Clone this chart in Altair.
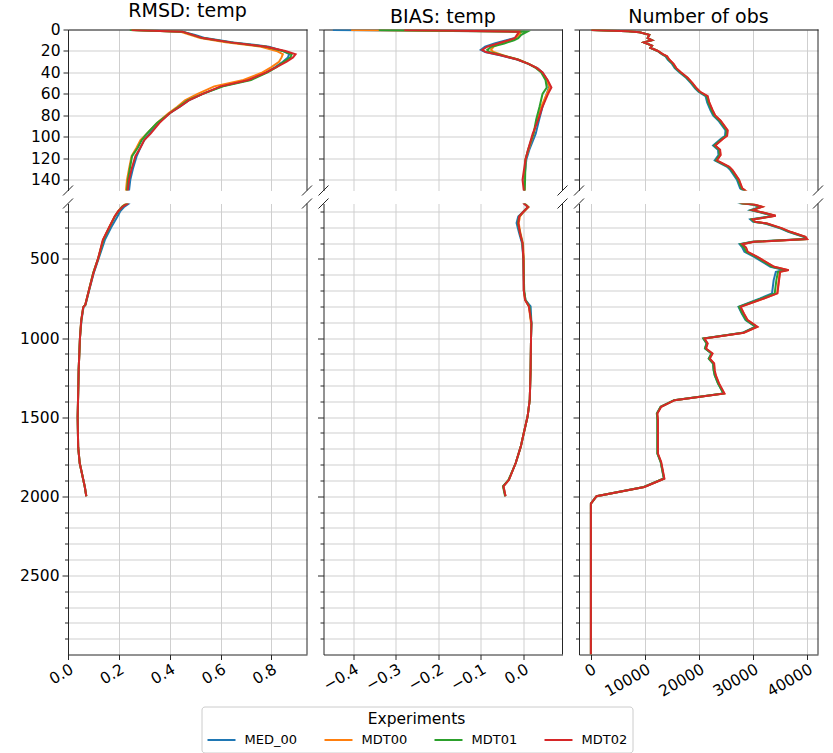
import altair as alt
import pandas as pd

EXPERIMENTS = ["MED_00", "MDT00", "MDT01", "MDT02"]
COLORS = ["#1f77b4", "#ff7f0e", "#2ca02c", "#d62728"]
TITLES = ["RMSD: temp", "BIAS: temp", "Number of obs"]

# ---------------- RMSD: temp ----------------
rmsd_depth = [0.5, 2, 5, 8, 12, 16, 20, 23, 26, 30, 35, 40, 47, 53, 60, 66, 72, 78, 87, 97,
              103, 110, 118, 130, 140, 150, 170, 200, 230, 300, 380, 500, 590, 700, 790, 805,
              890, 1000, 1200, 1500, 1690, 1790, 1940, 2000]
rmsd_med00 = [0.26, 0.45, 0.50, 0.54, 0.65, 0.79, 0.845, 0.87, 0.865, 0.845,
              0.815, 0.78, 0.71, 0.605, 0.53, 0.475, 0.44, 0.40, 0.355, 0.32,
              0.30, 0.285, 0.27, 0.255, 0.245, 0.24, 0.222, 0.205, 0.195, 0.17,
              0.145, 0.12, 0.101, 0.083, 0.069, 0.061, 0.053, 0.047, 0.042, 0.038,
              0.040, 0.046, 0.066, 0.072]
rmsd_mdt00 = [0.25, 0.44, 0.48, 0.52, 0.62, 0.76, 0.82, 0.845, 0.84, 0.83,
              0.80, 0.765, 0.69, 0.575, 0.51, 0.46, 0.43, 0.395, 0.35, 0.31,
              0.285, 0.27, 0.25, 0.24, 0.232, 0.228, 0.212, 0.197, 0.184, 0.162,
              0.138, 0.118, 0.099, 0.082, 0.068, 0.060, 0.052, 0.047, 0.042, 0.038,
              0.040, 0.046, 0.066, 0.072]
rmsd_mdt01 = [0.243, 0.45, 0.49, 0.53, 0.64, 0.78, 0.845, 0.88, 0.875, 0.85,
              0.82, 0.785, 0.72, 0.61, 0.53, 0.47, 0.435, 0.40, 0.35, 0.31,
              0.29, 0.275, 0.252, 0.243, 0.236, 0.232, 0.213, 0.198, 0.185, 0.163,
              0.139, 0.118, 0.099, 0.082, 0.068, 0.060, 0.052, 0.047, 0.042, 0.038,
              0.040, 0.046, 0.066, 0.072]
rmsd_mdt02 = [0.25, 0.45, 0.49, 0.53, 0.64, 0.78, 0.855, 0.895, 0.885, 0.86,
              0.82, 0.78, 0.71, 0.60, 0.53, 0.475, 0.44, 0.40, 0.36, 0.325,
              0.30, 0.285, 0.265, 0.25, 0.24, 0.235, 0.215, 0.197, 0.184, 0.162,
              0.137, 0.118, 0.100, 0.082, 0.068, 0.060, 0.052, 0.047, 0.042, 0.038,
              0.040, 0.046, 0.066, 0.072]

# ---------------- BIAS: temp ----------------
bias_depth = [0.5, 2, 5, 8, 10, 13, 16, 19, 21, 24, 28, 32, 36, 40, 47, 54, 60, 72, 84, 97,
              112, 121, 140, 150, 172, 202, 232, 274, 337, 402, 500, 700, 760, 800, 907, 1000,
              1200, 1390, 1495, 1600, 1685, 1790, 1896, 1937, 2000]
bias_med00 = [-0.448, -0.005, -0.012, -0.02, -0.04, -0.068, -0.09, -0.100, -0.09, -0.055,
              -0.015, 0.012, 0.033, 0.045, 0.056, 0.06, 0.055, 0.045, 0.037, 0.029,
              0.014, 0.007, 0.002, 0.002, 0.011, 0.0, -0.012, -0.016, -0.010, -0.003,
              0.0, 0.001, 0.005, 0.017, 0.019, 0.018, 0.017, 0.015, 0.010, 0.001,
              -0.006, -0.018, -0.034, -0.047, -0.042]
bias_mdt00 = [-0.405, -0.005, -0.01, -0.018, -0.03, -0.055, -0.07, -0.076, -0.07, -0.048,
              -0.012, 0.013, 0.032, 0.044, 0.055, 0.062, 0.055, 0.042, 0.033, 0.024,
              0.012, 0.005, 0.003, 0.003, 0.012, 0.001, -0.008, -0.011, -0.007, -0.001,
              0.001, 0.001, 0.004, 0.013, 0.018, 0.018, 0.017, 0.015, 0.010, 0.001,
              -0.006, -0.018, -0.034, -0.047, -0.042]
bias_mdt01 = [-0.34, 0.009, -0.005, -0.012, -0.022, -0.045, -0.075, -0.085, -0.08, -0.05,
              -0.013, 0.012, 0.03, 0.042, 0.052, 0.055, 0.045, 0.038, 0.03, 0.024,
              0.011, 0.005, 0.004, 0.003, 0.011, 0.0, -0.010, -0.013, -0.008, -0.002,
              0.0, 0.002, 0.005, 0.014, 0.019, 0.018, 0.017, 0.015, 0.010, 0.001,
              -0.006, -0.018, -0.035, -0.048, -0.043]
bias_mdt02 = [-0.28, -0.01, -0.015, -0.02, -0.035, -0.06, -0.085, -0.097, -0.088, -0.053,
              -0.014, 0.012, 0.032, 0.045, 0.057, 0.066, 0.058, 0.045, 0.035, 0.022,
              0.011, 0.005, -0.002, 0.001, 0.011, 0.0, -0.010, -0.012, -0.008, -0.002,
              0.0, 0.001, 0.004, 0.013, 0.019, 0.018, 0.017, 0.015, 0.010, 0.001,
              -0.006, -0.018, -0.034, -0.047, -0.042]

# ---------------- Number of obs ----------------
nobs_depth = [0.5, 1.7, 2.6, 5, 8, 10, 12, 15, 17, 20, 23, 25, 28, 32, 36, 40, 45, 50, 55, 58,
              62, 68, 75, 80, 85, 94, 99, 102, 108, 112, 117, 122, 128, 131, 140, 148, 156, 171,
              192, 209, 228, 251, 266, 276, 307, 329, 360, 375, 392, 407, 428, 455, 487, 550,
              571, 582, 634, 718, 750, 803, 845, 887, 929, 967, 1003, 1034, 1066, 1098, 1130,
              1161, 1203, 1235, 1287, 1350, 1393, 1435, 1477, 1519, 1730, 1783, 1888, 1941,
              2000, 2046, 3000]
nobs_med00 = [100, 6900, 9000, 10800, 10500, 11300, 9800, 11300, 11000, 12300,
              13100, 13800, 14200, 15000, 15500, 16400, 17600, 18500, 19300, 19900,
              21200, 21500, 22100, 22600, 23600, 24900, 24800, 24000, 22600, 23500,
              23600, 22900, 25200, 25800, 27000, 27600, 29800, 31300, 29500, 31600,
              33800, 29500, 30000, 32200, 35000, 36500, 39300, 39600, 29800, 27500,
              28000, 28400, 30200, 33200, 35800, 34200, 33800, 33500, 31300, 27300,
              27900, 28600, 30400, 28000, 20800, 21400, 21100, 22300, 21800, 22600,
              22700, 22900, 23500, 24500, 15400, 12900, 12200, 12300, 12300, 12900,
              13500, 9800, 1050, 0, 0]
nobs_mdt00 = [100, 6900, 9000, 10800, 10500, 11300, 9800, 11300, 11000, 12400,
              13250, 14050, 14450, 15250, 15750, 16650, 17850, 18750, 19550, 20150,
              21550, 21850, 22450, 22950, 23950, 25250, 25150, 24350, 22950, 23850,
              23950, 23250, 25550, 26150, 27350, 27950, 30150, 31650, 29850, 31950,
              34150, 29850, 30350, 32550, 35350, 36850, 39650, 39950, 30150, 27950,
              28650, 28950, 30750, 33850, 36550, 34950, 34750, 34450, 31950, 27650,
              28250, 28950, 30750, 28250, 20950, 21550, 21250, 22450, 21950, 22750,
              22850, 23050, 23650, 24650, 15450, 12950, 12250, 12350, 12350, 12950,
              13550, 9850, 1050, 0, 0]
nobs_mdt01 = [100, 6900, 9000, 10800, 10500, 11300, 9800, 11300, 11000, 12350,
              13200, 13950, 14350, 15150, 15650, 16550, 17750, 18650, 19450, 20050,
              21400, 21700, 22300, 22800, 23800, 25100, 25000, 24200, 22800, 23700,
              23800, 23100, 25400, 26000, 27200, 27800, 30000, 31500, 29700, 31800,
              34000, 29700, 30200, 32400, 35200, 36700, 39500, 39800, 30000, 27700,
              28300, 28700, 30500, 33500, 36200, 34600, 34300, 34000, 31600, 27400,
              28000, 28700, 30500, 28100, 20800, 21400, 21100, 22300, 21800, 22600,
              22700, 22900, 23500, 24500, 15400, 12900, 12200, 12300, 12300, 12900,
              13500, 9800, 1050, 0, 0]
nobs_mdt02 = [100, 6900, 9000, 10800, 10500, 11300, 9800, 11300, 11000, 12400,
              13300, 14100, 14500, 15300, 15800, 16700, 17900, 18800, 19600, 20200,
              21600, 21900, 22500, 23000, 24000, 25300, 25200, 24400, 23000, 23900,
              24000, 23300, 25600, 26200, 27400, 28000, 30200, 31700, 29900, 32000,
              34200, 29900, 30400, 32600, 35400, 36900, 39700, 40000, 30200, 28000,
              28700, 29000, 30800, 33900, 36600, 35000, 34800, 34500, 32000, 27700,
              28300, 29000, 30800, 28300, 21000, 21600, 21300, 22500, 22000, 22800,
              22900, 23100, 23700, 24700, 15500, 13000, 12300, 12400, 12400, 13000,
              13600, 9900, 1050, 0, 0]

# axis ticks / domains
TOP_TICKS = [0, 20, 40, 60, 80, 100, 120, 140]
BOT_TICKS = list(range(200, 3000, 100))
X_TICKS = [[0, 0.2, 0.4, 0.6, 0.8], [-0.4, -0.3, -0.2, -0.1, 0.0], [0, 10000, 20000, 30000, 40000]]
X_FMT = [".1f", ".1f", "d"]
X_DOMS = [[0, 0.94], [-0.47, 0.092], [-2200, 42000]]
TOP_DOM = [0, 150]
BOT_DOM = [150, 3000]


def to_long(depths, series):
    rows = []
    for exp, vals in zip(EXPERIMENTS, series):
        for d, v in zip(depths, vals):
            rows.append({"exp": exp, "depth": d, "value": v})
    return pd.DataFrame(rows)


DATA = [
    to_long(rmsd_depth, [rmsd_med00, rmsd_mdt00, rmsd_mdt01, rmsd_mdt02]),
    to_long(bias_depth, [bias_med00, bias_mdt00, bias_mdt01, bias_mdt02]),
    to_long(nobs_depth, [nobs_med00, nobs_mdt00, nobs_mdt01, nobs_mdt02]),
]

FONT = "DejaVu Sans"
SPINE = "#262626"
GRID = "#cfcfcf"
PW = 239
H_TOP, H_BOT = 161, 451

COLOR_SCALE = alt.Scale(domain=EXPERIMENTS, range=COLORS)
LEGEND = alt.Legend(
    title="Experiments", orient="none", legendX=133.5, legendY=677,
    direction="horizontal", columns=4, symbolType="M-1,0H3", symbolSize=196,
    symbolStrokeWidth=2, labelFontSize=13, titleFontSize=15.5, titleFontWeight="normal",
    titleAnchor="middle", titleAlign="center", labelFont=FONT, titleFont=FONT,
    labelColor="black", titleColor="black", strokeColor="#cccccc", fillColor="white",
    padding=5, cornerRadius=3, columnPadding=23, labelOffset=22, titlePadding=5,
    gridAlign="each",
)


def make_panel(col, part):
    df = DATA[col]
    w = PW
    top = part == "top"
    h = H_TOP if top else H_BOT
    if top:
        yaxis = alt.Axis(values=TOP_TICKS, labels=(col == 0), tickSize=5, grid=True,
                         domain=True, labelFontSize=15.5, labelPadding=3, format="d")
        xaxis = alt.Axis(orient="top", values=X_TICKS[col], labels=False, ticks=False,
                         domain=True, grid=True)
        ydom = TOP_DOM
    else:
        yaxis = alt.Axis(values=BOT_TICKS, labels=(col == 0), grid=True, domain=True,
                         labelFontSize=15.5, labelPadding=3, format="d",
                         labelExpr="datum.value % 500 === 0 ? datum.label : ''",
                         tickSize={"condition": {"test": "datum.value % 500 === 0", "value": 6},
                                   "value": 3.5})
        xaxis = alt.Axis(orient="bottom", values=X_TICKS[col], format=X_FMT[col], grid=True,
                         domain=True, tickSize=5, labelAngle=330, labelAlign="right",
                         labelBaseline="top", labelFontSize=15.5, labelPadding=2)
        ydom = BOT_DOM
    xenc = alt.X("value:Q", scale=alt.Scale(domain=X_DOMS[col], nice=False, zero=False),
                 axis=xaxis, title=None)
    yenc = alt.Y("depth:Q", scale=alt.Scale(domain=ydom, reverse=True, nice=False, zero=False),
                 axis=yaxis, title=None)
    layers = []
    for exp in EXPERIMENTS:
        layers.append(
            alt.Chart(df).transform_filter(alt.datum.exp == exp)
            .mark_line(clip=True, strokeWidth=2)
            .encode(x=xenc, y=yenc,
                    color=alt.Color("exp:N", scale=COLOR_SCALE, legend=LEGEND),
                    order=alt.Order("depth:Q"))
        )
    deco = alt.Chart(alt.Data(values=[{"k": 0}]))
    layers.append(deco.mark_rule(color=SPINE, strokeWidth=1).encode(
        x=alt.value(w), y=alt.value(0), y2=alt.value(h)))
    cy = h if top else 0
    for cx in (0, w):
        layers.append(deco.mark_rule(color=SPINE, strokeWidth=1).encode(
            x=alt.value(cx - 5), x2=alt.value(cx + 5), y=alt.value(cy + 5), y2=alt.value(cy - 5)))
    chart = alt.layer(*layers).properties(width=w, height=h)
    if top:
        chart = chart.properties(title=alt.TitleParams(
            TITLES[col], fontSize=19, font=FONT, fontWeight="normal", color="black",
            anchor="middle", offset=2))
    return chart


panels = [make_panel(c, "top") for c in range(3)] + [make_panel(c, "bottom") for c in range(3)]

chart = (
    alt.concat(*panels, columns=3, spacing={"row": 13, "column": 16.5}, bounds="flush")
    .properties(padding={"left": 19, "top": 1.5, "right": 8, "bottom": 1})
    .configure_view(stroke=None)
    .configure_axis(labelFont=FONT, labelColor="black", domainColor=SPINE, tickColor=SPINE,
                    gridColor=GRID, gridWidth=1, domainWidth=1)
)

chart.save("out.html", embed_options={"renderer": "svg", "actions": False})
